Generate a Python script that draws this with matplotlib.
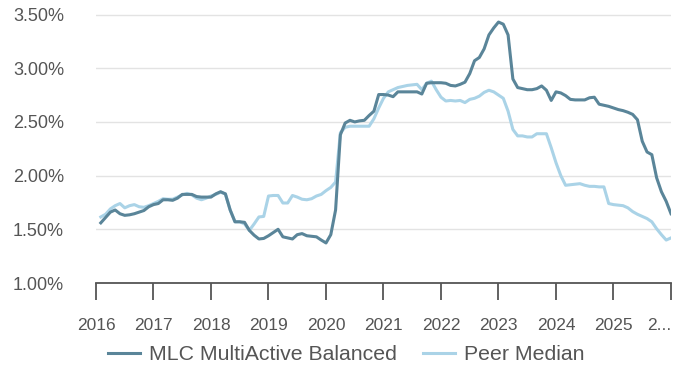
import matplotlib
matplotlib.use("Agg")
import matplotlib.pyplot as plt
import numpy as np

plt.rcParams["font.family"] = ["Liberation Sans", "DejaVu Sans"]

# Monthly observations, Feb 2016 .. Jan 2026 (month index 1..120 from Jan 2016)
months = list(range(1, 121))

mlc_balanced = [
    1.56, 1.61, 1.66, 1.68, 1.645, 1.63, 1.635, 1.645, 1.66, 1.675,
    1.71, 1.73, 1.74, 1.775, 1.775, 1.77, 1.79, 1.825, 1.825, 1.825,
    1.805, 1.80, 1.80, 1.80, 1.83, 1.85, 1.83, 1.68, 1.57, 1.57,
    1.565, 1.49, 1.445, 1.41, 1.415, 1.44, 1.47, 1.50, 1.43, 1.42,
    1.41, 1.45, 1.46, 1.44, 1.435, 1.43, 1.40, 1.373, 1.45, 1.68,
    2.38, 2.49, 2.515, 2.50, 2.51, 2.515, 2.56, 2.60, 2.755, 2.755,
    2.75, 2.735, 2.78, 2.78, 2.78, 2.78, 2.78, 2.76, 2.86, 2.865,
    2.865, 2.865, 2.86, 2.84, 2.835, 2.85, 2.87, 2.95, 3.07, 3.10,
    3.18, 3.31, 3.375, 3.43, 3.41, 3.31, 2.90, 2.82, 2.81, 2.80,
    2.80, 2.81, 2.835, 2.795, 2.70, 2.78, 2.77, 2.745, 2.71, 2.705,
    2.705, 2.705, 2.725, 2.73, 2.665, 2.655, 2.645, 2.63, 2.615, 2.605,
    2.59, 2.57, 2.52, 2.32, 2.22, 2.195, 1.98, 1.85, 1.76, 1.645,
]

peer_median = [
    1.615, 1.64, 1.69, 1.72, 1.74, 1.70, 1.72, 1.73, 1.71, 1.705,
    1.72, 1.74, 1.76, 1.785, 1.78, 1.78, 1.80, 1.82, 1.835, 1.82,
    1.79, 1.775, 1.79, 1.81, 1.825, 1.845, 1.83, 1.68, 1.57, 1.57,
    1.55, 1.49, 1.55, 1.615, 1.62, 1.81, 1.815, 1.815, 1.745, 1.745,
    1.815, 1.80, 1.78, 1.775, 1.785, 1.81, 1.825, 1.86, 1.89, 1.94,
    2.40, 2.45, 2.46, 2.46, 2.46, 2.46, 2.46, 2.53, 2.63, 2.72,
    2.78, 2.80, 2.82, 2.83, 2.84, 2.845, 2.85, 2.80, 2.86, 2.88,
    2.80, 2.73, 2.695, 2.70, 2.695, 2.70, 2.68, 2.71, 2.72, 2.74,
    2.775, 2.795, 2.78, 2.75, 2.72, 2.60, 2.43, 2.37, 2.37, 2.36,
    2.36, 2.39, 2.39, 2.39, 2.26, 2.12, 2.00, 1.91, 1.915, 1.92,
    1.925, 1.91, 1.90, 1.90, 1.895, 1.895, 1.74, 1.73, 1.725, 1.72,
    1.70, 1.665, 1.64, 1.62, 1.60, 1.57, 1.505, 1.45, 1.40, 1.42,
]

year_ticks = list(range(2016, 2027))
year_labels = [str(y) for y in range(2016, 2026)] + ["2..."]
y_ticks = [1.0, 1.5, 2.0, 2.5, 3.0, 3.5]
y_labels = ["1.00%", "1.50%", "2.00%", "2.50%", "3.00%", "3.50%"]

dark = "#5a8599"
light = "#aad3e7"
text_grey = "#555555"
axis_grey = "#555555"

x = 2016 + np.array(months) / 12.0

fig = plt.figure(figsize=(6.75, 3.69), dpi=100)
ax = fig.add_axes([96 / 675, 1 - 283 / 369, 575 / 675, (283 - 14) / 369])

ax.plot(x, peer_median, color=light, lw=2.2, zorder=3, label="Peer Median",
        solid_joinstyle="round")
ax.plot(x, mlc_balanced, color=dark, lw=2.2, zorder=4,
        label="MLC MultiActive Balanced", solid_joinstyle="round")

ax.set_xlim(2016, 2026)
ax.set_ylim(1.0, 3.505)

ax.set_yticks(y_ticks)
ax.set_yticklabels(y_labels)
ax.set_xticks(year_ticks)
ax.set_xticklabels(year_labels)
labels = ax.get_xticklabels()
labels[-1].set_ha("right")

for s in ("top", "right", "left"):
    ax.spines[s].set_visible(False)
ax.spines["bottom"].set_color(axis_grey)
ax.spines["bottom"].set_linewidth(1.3)

ax.grid(axis="y", color="#e3e3e3", lw=1.0, zorder=0)
ax.set_axisbelow(True)

ax.tick_params(axis="y", length=0, pad=23, labelsize=13, labelcolor=text_grey)
ax.tick_params(axis="x", length=12, width=1.3, color=axis_grey, direction="out",
               pad=13, labelsize=12.5, labelcolor=text_grey)

handles, lbls = ax.get_legend_handles_labels()
order = [1, 0]
fig.legend([handles[i] for i in order], [lbls[i] for i in order],
           loc="center", bbox_to_anchor=(0.513, 0.038), ncol=2, frameon=False,
           fontsize=15.3, handlelength=1.5, handletextpad=0.4, columnspacing=1.25,
           labelcolor=text_grey)

fig.savefig("out.png", dpi=100)
